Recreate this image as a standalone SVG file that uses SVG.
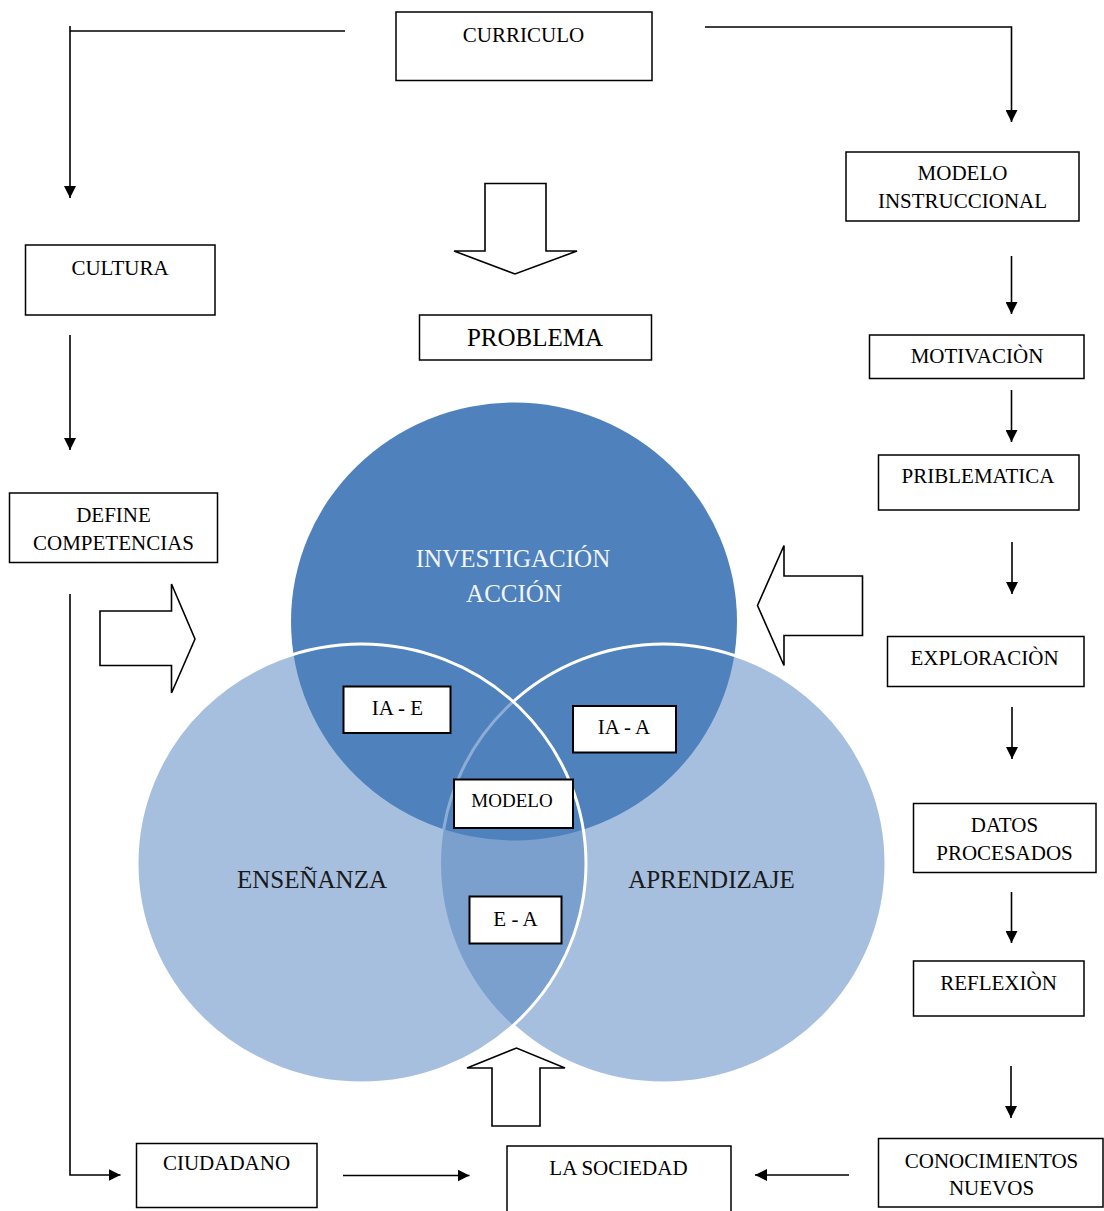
<svg xmlns="http://www.w3.org/2000/svg" width="1104" height="1211" viewBox="0 0 1104 1211">
<defs>
<style>
.box{fill:#fff;stroke:#000;stroke-width:1.5}
.sbox{fill:#fff;stroke:#000;stroke-width:2}
.t{font-family:"Liberation Serif","Times New Roman",serif;font-size:21px;fill:#000;text-anchor:middle}
.ct{font-family:"Liberation Serif","Times New Roman",serif;font-size:25px;text-anchor:middle}
.ln{fill:none;stroke:#000;stroke-width:1.6}
.blk{fill:#fff;stroke:#000;stroke-width:1.6;stroke-linejoin:miter}
</style>
<marker id="ah" viewBox="0 0 10 10" refX="10" refY="5" markerWidth="7.5" markerHeight="7.5" markerUnits="strokeWidth" orient="auto">
<path d="M0,0 L10,5 L0,10 Z" fill="#000"/>
</marker>
<clipPath id="clipL"><ellipse cx="361.5" cy="863.5" rx="224.5" ry="219.5"/></clipPath>
<clipPath id="clipT"><ellipse cx="514" cy="621.5" rx="223" ry="219"/></clipPath>
<mask id="notL"><rect x="0" y="0" width="1104" height="1211" fill="#fff"/><ellipse cx="361.5" cy="863.5" rx="224.5" ry="219.5" fill="#000"/></mask>
</defs>
<rect x="0" y="0" width="1104" height="1211" fill="#fff"/>

<g id="venn">
<ellipse cx="361.5" cy="863.5" rx="224.5" ry="219.5" fill="#A7BFDE"/>
<ellipse cx="663.5" cy="863.5" rx="222.5" ry="219.5" fill="#A7BFDE"/>
<ellipse cx="663.5" cy="863.5" rx="222.5" ry="219.5" fill="#7BA0CD" clip-path="url(#clipL)"/>
<ellipse cx="514" cy="621.5" rx="223" ry="219" fill="#4F81BD"/>
<ellipse cx="361.5" cy="863.5" rx="224.5" ry="219.5" fill="none" stroke="#fff" stroke-width="3"/>
<ellipse cx="663.5" cy="863.5" rx="222.5" ry="219.5" fill="none" stroke="#fff" stroke-width="3" mask="url(#notL)"/>
<g clip-path="url(#clipL)"><ellipse cx="663.5" cy="863.5" rx="222.5" ry="219.5" fill="none" stroke="#fff" stroke-opacity="0.35" stroke-width="3" clip-path="url(#clipT)"/></g>
<text class="ct" x="513" y="566.5" fill="#F2F6FB">INVESTIGACIÓN</text>
<text class="ct" x="514" y="601.5" fill="#F2F6FB">ACCIÓN</text>
<text class="ct" x="312" y="887.5" fill="#1a1a1a">ENSEÑANZA</text>
<text class="ct" x="711.5" y="887.5" fill="#1a1a1a">APRENDIZAJE</text>
</g>

<g id="connectors">
<polyline class="ln" points="345,31 70,31"/>
<polyline class="ln" points="70,26 70,198" marker-end="url(#ah)"/>
<polyline class="ln" points="705,27 1011.5,27 1011.5,122" marker-end="url(#ah)"/>
<line class="ln" x1="1011.5" y1="256" x2="1011.5" y2="314" marker-end="url(#ah)"/>
<line class="ln" x1="1011.5" y1="390" x2="1011.5" y2="442" marker-end="url(#ah)"/>
<line class="ln" x1="1012" y1="542" x2="1012" y2="594" marker-end="url(#ah)"/>
<line class="ln" x1="1012" y1="707" x2="1012" y2="759" marker-end="url(#ah)"/>
<line class="ln" x1="1011.5" y1="892" x2="1011.5" y2="943" marker-end="url(#ah)"/>
<line class="ln" x1="1011" y1="1066" x2="1011" y2="1118" marker-end="url(#ah)"/>
<line class="ln" x1="849" y1="1175" x2="755" y2="1175" marker-end="url(#ah)"/>
<line class="ln" x1="343" y1="1175.5" x2="469.5" y2="1175.5" marker-end="url(#ah)"/>
<polyline class="ln" points="70,594 70,1175 120.5,1175" marker-end="url(#ah)"/>
<line class="ln" x1="70" y1="335" x2="70" y2="450" marker-end="url(#ah)"/>
<polygon class="blk" points="485,183.5 546,183.5 546,251 577,251 515,274 454,251 485,251"/>
<polygon class="blk" points="100,611 171.5,611 171.5,584 195,639 171.5,693 171.5,665.5 100,665.5"/>
<polygon class="blk" points="862.5,576 784,576 784,545.5 757.5,605.5 784,665.5 784,635.5 862.5,635.5"/>
<polygon class="blk" points="492,1126 540,1126 540,1068 565,1068 516.5,1048 467,1068 492,1068"/>
</g>

<g id="n-curriculo"><rect class="box" x="396" y="12" width="256" height="68.5"/><text class="t" x="523.5" y="41.5">CURRICULO</text></g>
<g id="n-cultura"><rect class="box" x="25.5" y="245" width="189.5" height="70"/><text class="t" x="120" y="275">CULTURA</text></g>
<g id="n-define"><rect class="box" x="9.5" y="493" width="208" height="69.5"/><text class="t" x="113.5" y="522">DEFINE</text><text class="t" x="113.5" y="550">COMPETENCIAS</text></g>
<g id="n-problema"><rect class="box" x="419.5" y="315" width="232" height="45"/><text class="t" x="535" y="345.5" style="font-size:25px">PROBLEMA</text></g>
<g id="n-modelo-instr"><rect class="box" x="846" y="152" width="233" height="69"/><text class="t" x="962.5" y="180">MODELO</text><text class="t" x="962.5" y="207.5">INSTRUCCIONAL</text></g>
<g id="n-motivacion"><rect class="box" x="869.5" y="335" width="214.5" height="43.5"/><text class="t" x="977" y="362.5">MOTIVACIÒN</text></g>
<g id="n-priblematica"><rect class="box" x="878.5" y="455" width="200.5" height="55"/><text class="t" x="978" y="483">PRIBLEMATICA</text></g>
<g id="n-exploracion"><rect class="box" x="887.5" y="636.5" width="196.5" height="50"/><text class="t" x="984.5" y="665">EXPLORACIÒN</text></g>
<g id="n-datos"><rect class="box" x="913.5" y="803.5" width="182.5" height="69"/><text class="t" x="1004.5" y="831.5">DATOS</text><text class="t" x="1004.5" y="860">PROCESADOS</text></g>
<g id="n-reflexion"><rect class="box" x="913.5" y="961" width="170.5" height="55"/><text class="t" x="998.5" y="989.5">REFLEXIÒN</text></g>
<g id="n-conocimientos"><rect class="box" x="878.5" y="1138.5" width="224.5" height="68.5"/><text class="t" x="991.5" y="1167.5">CONOCIMIENTOS</text><text class="t" x="991.5" y="1195">NUEVOS</text></g>
<g id="n-sociedad"><path class="box" d="M507,1212 L507,1146 L731,1146 L731,1212"/><text class="t" x="618.5" y="1174.5">LA SOCIEDAD</text></g>
<g id="n-ciudadano"><rect class="box" x="136.5" y="1143.5" width="180.5" height="64"/><text class="t" x="226.5" y="1170">CIUDADANO</text></g>

<g id="n-ia-e"><rect class="sbox" x="343.5" y="686.5" width="107" height="46.5"/><text class="t" x="397.5" y="715">IA - E</text></g>
<g id="n-ia-a"><rect class="sbox" x="573" y="706" width="103" height="46.5"/><text class="t" x="624" y="734">IA - A</text></g>
<g id="n-modelo"><rect class="sbox" x="454" y="779.5" width="119" height="48.5"/><text class="t" x="512" y="806.5" style="font-size:19px">MODELO</text></g>
<g id="n-e-a"><rect class="sbox" x="469.5" y="896.5" width="92" height="47"/><text class="t" x="515.5" y="925.5">E - A</text></g>
</svg>
